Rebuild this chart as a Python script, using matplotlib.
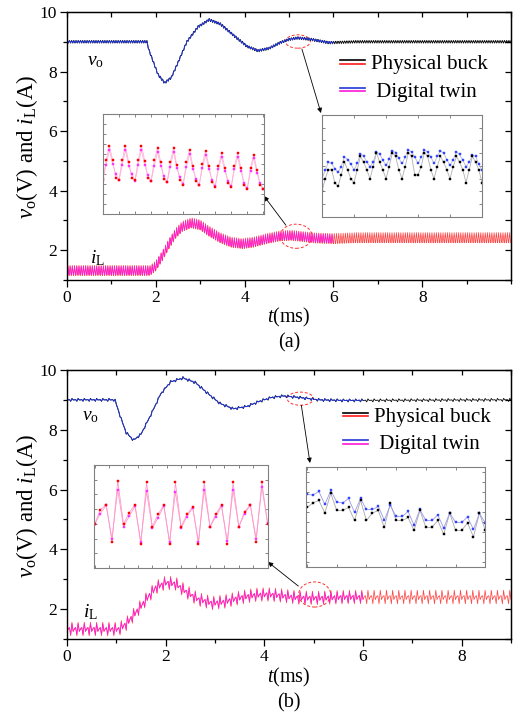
import numpy as np
import matplotlib
matplotlib.use('Agg')
import matplotlib.pyplot as plt
from matplotlib.patches import Ellipse
from matplotlib.lines import Line2D
from matplotlib.legend_handler import HandlerBase
from matplotlib.ticker import MultipleLocator

plt.rcParams['font.family'] = 'Liberation Serif'
plt.rcParams['mathtext.fontset'] = 'custom'
plt.rcParams['mathtext.rm'] = 'Liberation Serif'
plt.rcParams['mathtext.it'] = 'Liberation Serif:italic'

# ---------------- (a) slow part of the waveforms
t_vo_a = [0, 1.8, 1.85, 1.95, 2.05, 2.2, 2.35, 2.5, 2.7, 2.95, 3.2, 3.45, 3.75, 4.05,
          4.3, 4.55, 4.8, 5.0, 5.2, 5.5, 5.9, 6.5, 10]
vo_a = [9.0, 9.0, 8.7, 8.3, 7.9, 7.62, 7.8, 8.3, 9.0, 9.5, 9.74, 9.6, 9.22, 8.85,
        8.70, 8.78, 8.97, 9.08, 9.13, 9.08, 8.97, 9.0, 9.0]
t_il_a = [0, 1.87, 2.0, 2.15, 2.3, 2.45, 2.6, 2.8, 3.0, 3.2, 3.45, 3.7, 3.95, 4.2,
          4.5, 4.8, 5.05, 5.3, 5.6, 6.0, 6.5, 10]
il_a = [1.3, 1.3, 1.45, 1.8, 2.2, 2.55, 2.78, 2.9, 2.83, 2.62, 2.4, 2.25, 2.2, 2.25,
        2.37, 2.46, 2.48, 2.44, 2.39, 2.37, 2.4, 2.4]
# one switching period, 5 samples
dt_a = 0.01
rip_vo_phys_a = [0.04, 0.03, -0.01, -0.045, -0.01]
rip_vo_twin_a = [0.025, 0.02, -0.005, -0.03, -0.005]
rip_il_phys_a = [-0.15, 0.05, 0.19, 0.04, -0.13]
rip_il_twin_a = [-0.12, 0.01, 0.16, 0.02, -0.08]

# ---------------- (b)
t_vo_b = [0, 0.97, 1.03, 1.1, 1.2, 1.35, 1.5, 1.7, 1.9, 2.1, 2.35, 2.6, 2.85, 3.1,
          3.37, 3.65, 3.9, 4.15, 4.39, 4.7, 5.1, 5.6, 9]
vo_b = [9.0, 9.0, 8.7, 8.35, 7.9, 7.65, 7.85, 8.5, 9.2, 9.6, 9.73, 9.58, 9.22, 8.88,
        8.70, 8.78, 8.95, 9.08, 9.13, 9.08, 9.0, 8.98, 9.0]
t_il_b = [0, 1.05, 1.2, 1.35, 1.5, 1.65, 1.8, 2.0, 2.2, 2.4, 2.65, 2.95, 3.2, 3.5,
          3.8, 4.05, 4.35, 4.7, 5.1, 5.6, 9]
il_b = [1.33, 1.33, 1.5, 1.8, 2.1, 2.42, 2.72, 2.88, 2.85, 2.6, 2.33, 2.2, 2.25, 2.38,
        2.47, 2.49, 2.45, 2.38, 2.37, 2.4, 2.4]
dt_b = 0.025
rip_vo_phys_b = [0.0, 0.0, 0.01, -0.05, 0.05]
rip_vo_twin_b = [0.0, 0.0, 0.01, -0.035, 0.035]
rip_il_phys_b = [-0.08, 0.02, 0.05, -0.22, 0.23]
rip_il_twin_b = [-0.07, 0.0, 0.06, -0.18, 0.18]

twin_end = 6.0

# ---------------- inset samples
ins_il_phys_a = [2.343, 2.543, 2.683, 2.537, 2.363, 2.343, 2.543, 2.683, 2.517, 2.363,
                 2.337, 2.543, 2.683, 2.533, 2.363, 2.330, 2.537, 2.663, 2.523, 2.350,
                 2.323, 2.517, 2.663, 2.490, 2.343, 2.290, 2.517, 2.643, 2.483, 2.330,
                 2.290, 2.497, 2.633, 2.483, 2.323, 2.270, 2.483, 2.610, 2.463, 2.310,
                 2.270, 2.483, 2.610, 2.463, 2.290, 2.250, 2.463, 2.593, 2.443, 2.290, 2.250]
ins_il_twin_a = [2.36, 2.49, 2.64, 2.50, 2.40, 2.34, 2.49, 2.64, 2.48, 2.40,
                 2.33, 2.49, 2.64, 2.49, 2.39, 2.33, 2.48, 2.62, 2.48, 2.38,
                 2.32, 2.47, 2.62, 2.46, 2.37, 2.30, 2.47, 2.60, 2.45, 2.35,
                 2.29, 2.46, 2.59, 2.45, 2.34, 2.28, 2.45, 2.57, 2.43, 2.33,
                 2.28, 2.45, 2.57, 2.43, 2.31, 2.26, 2.43, 2.56, 2.41, 2.31, 2.25]
ins_vo_phys_a = [9.040, 9.060, 9.074, 9.074, 9.054, 9.048, 9.066, 9.086, 9.074, 9.060,
                 9.054, 9.074, 9.095, 9.086, 9.074, 9.060, 9.079, 9.101, 9.086, 9.074,
                 9.060, 9.079, 9.101, 9.095, 9.074, 9.060, 9.079, 9.101, 9.095, 9.066,
                 9.066, 9.079, 9.101, 9.095, 9.074, 9.060, 9.079, 9.095, 9.086, 9.074,
                 9.060, 9.079, 9.095, 9.086, 9.074, 9.054, 9.074, 9.095, 9.086, 9.074, 9.054]
ins_vo_twin_a = [9.060, 9.073, 9.086, 9.084, 9.076, 9.070, 9.079, 9.094, 9.090, 9.083,
                 9.074, 9.084, 9.099, 9.096, 9.086, 9.079, 9.086, 9.102, 9.099, 9.089,
                 9.081, 9.091, 9.104, 9.101, 9.092, 9.084, 9.094, 9.105, 9.102, 9.094,
                 9.084, 9.094, 9.105, 9.102, 9.094, 9.084, 9.095, 9.104, 9.100, 9.090,
                 9.081, 9.090, 9.102, 9.098, 9.089, 9.079, 9.086, 9.097, 9.095, 9.083, 9.073]
ins_il_phys_b = [2.298, 2.397, 2.430, 2.179, 2.594, 2.298, 2.377, 2.430, 2.164, 2.581,
                 2.280, 2.365, 2.428, 2.164, 2.581, 2.280, 2.365, 2.415, 2.164, 2.581,
                 2.280, 2.365, 2.428, 2.164, 2.581, 2.280, 2.381, 2.430, 2.179, 2.581, 2.298]
ins_il_twin_b = [2.298, 2.370, 2.426, 2.200, 2.531, 2.280, 2.352, 2.419, 2.179, 2.520,
                 2.269, 2.343, 2.419, 2.179, 2.516, 2.274, 2.348, 2.410, 2.179, 2.527,
                 2.280, 2.348, 2.419, 2.186, 2.527, 2.280, 2.370, 2.426, 2.200, 2.549, 2.303]
ins_vo_phys_b = [9.069, 9.078, 9.083, 9.058, 9.097, 9.063, 9.063, 9.069, 9.043, 9.083,
                 9.043, 9.058, 9.063, 9.029, 9.077, 9.043, 9.043, 9.049, 9.023, 9.063,
                 9.029, 9.029, 9.043, 9.015, 9.058, 9.023, 9.023, 9.038, 9.010, 9.058, 9.023]
ins_vo_twin_b = [9.095, 9.094, 9.101, 9.075, 9.103, 9.080, 9.078, 9.087, 9.059, 9.087,
                 9.065, 9.065, 9.071, 9.044, 9.073, 9.051, 9.051, 9.061, 9.034, 9.065,
                 9.043, 9.043, 9.054, 9.028, 9.058, 9.039, 9.039, 9.050, 9.025, 9.057, 9.038]

C_PHYS_V = 'black'
C_PHYS_I = '#ff1a1a'
C_TWIN_V = '#2236d8'
C_TWIN_I = '#ff1ad9'


def switched(t_key, v_key, ripple, dt, t_end):
    t = np.arange(0, t_end + dt / 2, dt)
    return t, np.interp(t, t_key, v_key) + np.resize(ripple, t.size)


class DoubleLine(HandlerBase):
    def create_artists(self, legend, orig_handle, xdescent, ydescent, width, height,
                       fontsize, trans):
        top, bot = orig_handle
        y0 = height / 2 - ydescent
        l1 = Line2D([-xdescent, width - xdescent], [y0 + 1.3] * 2, color=top, lw=1.2,
                    transform=trans)
        l2 = Line2D([-xdescent, width - xdescent], [y0 - 1.3] * 2, color=bot, lw=1.2,
                    transform=trans)
        return [l1, l2]


def main_axes(fig, rect, t_end, parts):
    ax = fig.add_axes(rect)
    (tv, vp, vt), (ti, ip, it) = parts
    ax.plot(tv, vp, color=C_PHYS_V, lw=0.6)
    ax.plot(ti, ip, color=C_PHYS_I, lw=0.55, alpha=0.8)
    m = tv <= twin_end
    ax.plot(tv[m], vt[m], color=C_TWIN_V, lw=0.7)
    m = ti <= twin_end
    ax.plot(ti[m], it[m], color=C_TWIN_I, lw=0.55)
    ax.set_xlim(0, t_end)
    ax.set_ylim(1, 10)
    ax.set_xticks([0, 2, 4, 6, 8])
    ax.set_yticks([2, 4, 6, 8, 10])
    ax.xaxis.set_minor_locator(MultipleLocator(1))
    ax.yaxis.set_minor_locator(MultipleLocator(1))
    ax.tick_params(which='major', direction='out', length=5, width=0.9, labelsize=12.5,
                   pad=2)
    ax.tick_params(which='minor', direction='out', length=3, width=0.9)
    for s in ax.spines.values():
        s.set_linewidth(1.0)
    sx = ax.secondary_xaxis('top')
    sx.set_xticks(np.arange(0, t_end + 0.5, 1))
    sx.tick_params(direction='in', length=3.5, width=0.9, labeltop=False)
    sy = ax.secondary_yaxis('right')
    sy.set_yticks(np.arange(1, 11, 1))
    sy.tick_params(direction='in', length=4, width=0.9, labelright=False)
    return ax


def inset(fig, rect, y_phys, y_twin, c_phys, c_twin, lc_phys, lc_twin, xlim, ylim,
          xstep, ystep):
    axi = fig.add_axes(rect)
    x = np.arange(len(y_phys))
    axi.plot(x, y_phys, color=lc_phys, lw=0.6)
    axi.plot(x, y_twin, color=lc_twin, lw=0.6)
    axi.plot(x, y_twin, ls='none', marker='s', ms=1.5, mfc=c_twin, mec=c_twin, mew=0.3)
    axi.plot(x, y_phys, ls='none', marker='s', ms=1.5, mfc=c_phys, mec=c_phys, mew=0.3)
    axi.set_xlim(*xlim)
    axi.set_ylim(*ylim)
    axi.xaxis.set_major_locator(MultipleLocator(xstep))
    axi.yaxis.set_major_locator(MultipleLocator(ystep))
    axi.tick_params(direction='in', length=2, width=0.6, colors='#707070',
                    top=True, right=True, labelbottom=False, labelleft=False)
    for s in axi.spines.values():
        s.set_color('#808080')
        s.set_linewidth(0.8)
    return axi


def arrow(fig, ax, start, end_fig):
    ax.annotate('', xy=end_fig, xycoords='figure fraction', xytext=start,
                textcoords='data',
                arrowprops=dict(arrowstyle='-|>', color='black', lw=0.6,
                                mutation_scale=7, shrinkA=0, shrinkB=0))


def legend(ax, anchor):
    ax.legend([(C_PHYS_V, C_PHYS_I), (C_TWIN_V, C_TWIN_I)],
              ['Physical buck', ' Digital twin'],
              handler_map={tuple: DoubleLine()}, loc='upper left',
              bbox_to_anchor=anchor, frameon=False, fontsize=15,
              handlelength=1.2, handletextpad=0.3, labelspacing=0.38,
              borderpad=0, borderaxespad=0)


fig = plt.figure(figsize=(5.13, 7.18), dpi=100)
ylab = r'$v_{\mathrm{o}}$(V) and $i_{\mathrm{L}}$(A)'

# ---------------- panel (a)
pa = (
    (*switched(t_vo_a, vo_a, rip_vo_phys_a, dt_a, 10),
     switched(t_vo_a, vo_a, rip_vo_twin_a, dt_a, 10)[1]),
    (*switched(t_il_a, il_a, rip_il_phys_a, dt_a, 10),
     switched(t_il_a, il_a, rip_il_twin_a, dt_a, 10)[1]),
)
ax_a = main_axes(fig, [0.1306, 0.61, 0.8655, 0.3733], 10, pa)
ax_a.text(0.45, 8.35, r'$v_{\mathrm{o}}$', fontsize=14, va='center')
ax_a.text(0.52, 1.75, r'$i_{\mathrm{L}}$', fontsize=14, va='center')
ax_a.add_patch(Ellipse((5.2, 9.01), 0.56, 0.45, fill=False, ec='#ff3030', ls=(0, (3, 2)),
                       lw=0.7))
ax_a.add_patch(Ellipse((5.16, 2.47), 0.72, 0.81, fill=False, ec='#ff3030', ls=(0, (3, 2)),
                       lw=0.7))
arrow(fig, ax_a, (5.29, 8.76), (0.6257, 0.8426))
arrow(fig, ax_a, (4.93, 2.84), (0.5146, 0.727))
legend(ax_a, (0.615, 0.84))

inset(fig, [0.2008, 0.7019, 0.3138, 0.1393], ins_il_phys_a, ins_il_twin_a,
      '#ff0000', '#ff33ff', '#ffb3d9', '#ffb3d9', (0, 50.2), (2.0, 3.0), 5, 0.1)
inset(fig, [0.6277, 0.6978, 0.3119, 0.1421], ins_vo_phys_a, ins_vo_twin_a,
      'black', '#3344ff', '#b0b0b0', '#b8b8d8', (0, 50), (9.0, 9.16), 10, 0.02)

fig.text(289 / 513, 1 - 317 / 718, r'$t$(ms)', ha='center', va='center', fontsize=14.5)
fig.text(289 / 513, 1 - 343 / 718, '(a)', ha='center', va='center', fontsize=14.5)
fig.text(27 / 513, 1 - 147 / 718, ylab, rotation=90, ha='center', va='center',
         fontsize=16.5)

# ---------------- panel (b)
pb = (
    (*switched(t_vo_b, vo_b, rip_vo_phys_b, dt_b, 9),
     switched(t_vo_b, vo_b, rip_vo_twin_b, dt_b, 9)[1]),
    (*switched(t_il_b, il_b, rip_il_phys_b, dt_b, 9),
     switched(t_il_b, il_b, rip_il_twin_b, dt_b, 9)[1]),
)
ax_b = main_axes(fig, [0.1306, 0.11, 0.8655, 0.3747], 9, pb)
ax_b.text(0.30, 8.45, r'$v_{\mathrm{o}}$', fontsize=14, va='center')
ax_b.text(0.32, 1.91, r'$i_{\mathrm{L}}$', fontsize=14, va='center')
ax_b.add_patch(Ellipse((4.73, 9.04), 0.53, 0.44, fill=False, ec='#ff3030', ls=(0, (3, 2)),
                       lw=0.7))
ax_b.add_patch(Ellipse((5.02, 2.49), 0.65, 0.84, fill=False, ec='#ff3030', ls=(0, (3, 2)),
                       lw=0.7))
arrow(fig, ax_b, (4.75, 8.82), (0.6043, 0.3552))
arrow(fig, ax_b, (4.69, 2.77), (0.5224, 0.2173))
legend(ax_b, (0.622, 0.862))

inset(fig, [0.1832, 0.2089, 0.3392, 0.1435], ins_il_phys_b, ins_il_twin_b,
      '#ff0000', '#ff33ff', '#ff99cc', '#ff99cc', (-0.12, 30.06), (2.0, 2.7), 2.5, 0.1)
inset(fig, [0.5965, 0.2103, 0.3489, 0.1393], ins_vo_phys_b, ins_vo_twin_b,
      'black', '#3344ff', '#a8a8a8', '#9999ee', (-0.17, 29.94), (8.95, 9.15), 5, 0.02)

fig.text(289 / 513, 1 - 677 / 718, r'$t$(ms)', ha='center', va='center', fontsize=14.5)
fig.text(289 / 513, 1 - 703 / 718, '(b)', ha='center', va='center', fontsize=14.5)
fig.text(27 / 513, 1 - 506 / 718, ylab, rotation=90, ha='center', va='center',
         fontsize=16.5)

fig.savefig('out.png', dpi=100)
